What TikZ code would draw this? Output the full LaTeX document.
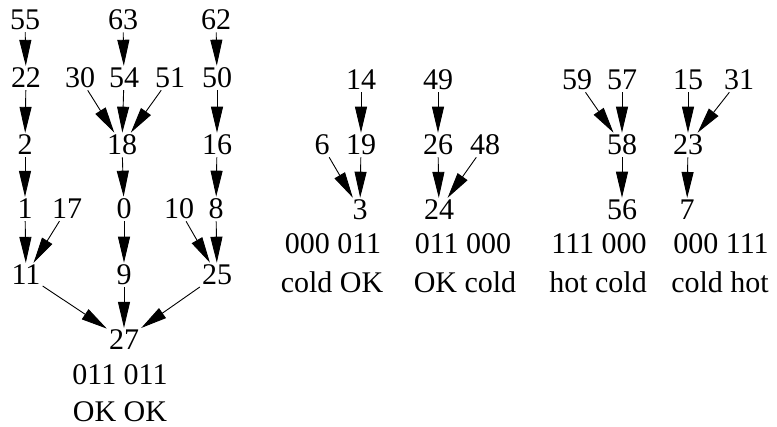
\documentclass[tikz,border=0pt]{standalone}
\usepackage{fontspec}
\setmainfont{Liberation Serif}
\usetikzlibrary{arrows.meta}
\tikzset{
  num/.style={inner sep=2pt,font=\fontsize{30}{34}\selectfont},
  lab/.style={inner sep=0pt,font=\fontsize{30}{34}\selectfont},
  edge/.style={-{Triangle[length=26pt,width=12pt]},line width=0.9pt}
}
\begin{document}
\begin{tikzpicture}[x=1pt,y=-1pt]
\useasboundingbox (0,0) rectangle (777,427);
\node[num] (n55) at (25,20) {55};
\node[num] (n63) at (123,20) {63};
\node[num] (n62) at (216,20) {62};
\node[num] (n22) at (26,78) {22};
\node[num] (n30) at (80,78) {30};
\node[num] (n54) at (124,78) {54};
\node[num] (n51) at (170,78) {51};
\node[num] (n50) at (217,78) {50};
\node[num] (n2) at (25,145) {2};
\node[num] (n18) at (122,145) {18};
\node[num] (n16) at (217,145) {16};
\node[num] (n1) at (25,209) {1};
\node[num] (n17) at (67,209) {17};
\node[num] (n0) at (124,209) {0};
\node[num] (n10) at (179,209) {10};
\node[num] (n8) at (216,209) {8};
\node[num] (n11) at (26,275) {11};
\node[num] (n9) at (124,275) {9};
\node[num] (n25) at (217,275) {25};
\node[num] (n27) at (124,340) {27};
\node[lab] (b27) at (120,375) {011 011};
\node[lab] (s27) at (120,412) {OK OK};
\draw[edge] (n55) -- (n22);
\draw[edge] (n22) -- (n2);
\draw[edge] (n2) -- (n1);
\draw[edge] (n1) -- (n11);
\draw[edge] (n17) -- (n11);
\draw[edge] (n63) -- (n54);
\draw[edge] (n30) -- (n18);
\draw[edge] (n54) -- (n18);
\draw[edge] (n51) -- (n18);
\draw[edge] (n18) -- (n0);
\draw[edge] (n0) -- (n9);
\draw[edge] (n62) -- (n50);
\draw[edge] (n50) -- (n16);
\draw[edge] (n16) -- (n8);
\draw[edge] (n10) -- (n25);
\draw[edge] (n8) -- (n25);
\draw[edge] (n11) -- (n27);
\draw[edge] (n9) -- (n27);
\draw[edge] (n25) -- (n27);

\node[num] (n14) at (361,80) {14};
\node[num] (n6) at (322,145) {6};
\node[num] (n19) at (361,145) {19};
\node[num] (n3) at (360,210) {3};
\node[lab] (b3) at (333,244) {000 011};
\node[lab] (s3) at (332,282) {cold OK};
\draw[edge] (n14) -- (n19);
\draw[edge] (n6) -- (n3);
\draw[edge] (n19) -- (n3);

\node[num] (n49) at (438,80) {49};
\node[num] (n26) at (438,145) {26};
\node[num] (n48) at (485,145) {48};
\node[num] (n24) at (439,210) {24};
\node[lab] (b24) at (463,244) {011 000};
\node[lab] (s24) at (465,282) {OK cold};
\draw[edge] (n49) -- (n26);
\draw[edge] (n26) -- (n24);
\draw[edge] (n48) -- (n24);

\node[num] (n59) at (577,80) {59};
\node[num] (n57) at (622,80) {57};
\node[num] (n58) at (622,145) {58};
\node[num] (n56) at (622,210) {56};
\node[lab] (b56) at (599,244) {111 000};
\node[lab] (s56) at (598,282) {hot cold};
\draw[edge] (n59) -- (n58);
\draw[edge] (n57) -- (n58);
\draw[edge] (n58) -- (n56);

\node[num] (n15) at (688,80) {15};
\node[num] (n31) at (739,80) {31};
\node[num] (n23) at (688,145) {23};
\node[num] (n7) at (687,210) {7};
\node[lab] (b7) at (721,244) {000 111};
\node[lab] (s7) at (720,282) {cold hot};
\draw[edge] (n15) -- (n23);
\draw[edge] (n31) -- (n23);
\draw[edge] (n23) -- (n7);
\end{tikzpicture}
\end{document}
